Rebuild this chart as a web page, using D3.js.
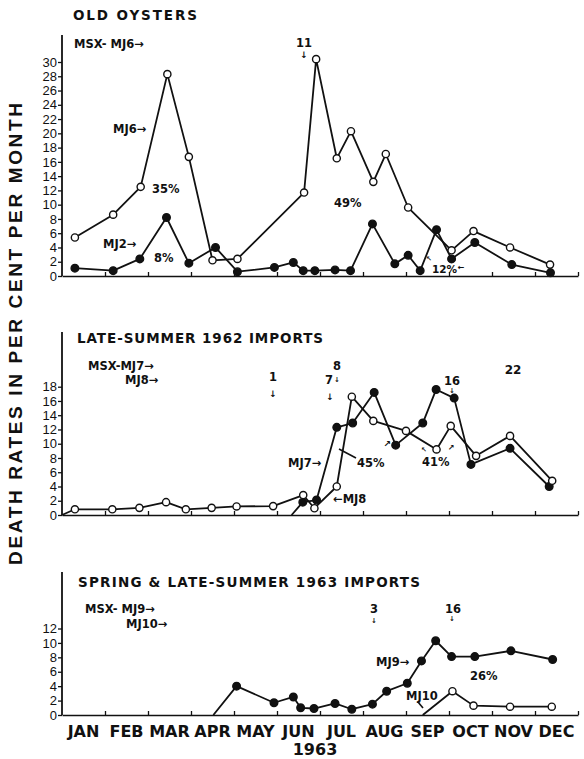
<!DOCTYPE html>
<html lang="en">
<head>
<meta charset="utf-8">
<title>Death rates in per cent per month, 1963</title>
<script src="https://d3js.org/d3.v7.min.js"></script>
<style type="text/css">
  body { margin: 0; background: #fff; }
  text { font-family: "Liberation Sans", Arial, sans-serif; fill: #111; }
  .lbl { font-family: "DejaVu Sans", "Liberation Sans", sans-serif; font-weight: bold; }
</style>
</head>
<body>
<script type="text/javascript">
// month labels and tick values
var months = ["JAN", "FEB", "MAR", "APR", "MAY", "JUN", "JUL", "AUG", "SEP", "OCT", "NOV", "DEC"];
var oldTicks = [0, 2, 4, 6, 8, 10, 12, 14, 16, 18, 20, 22, 24, 26, 28, 30];
var lateTicks = [0, 2, 4, 6, 8, 10, 12, 14, 16, 18];
var springTicks = [0, 2, 4, 6, 8, 10, 12];

// [month position (0 = 1 Jan, 12 = 31 Dec), death rate %]
var oldMJ6 = [[0.30, 5.4], [1.19, 8.6], [1.83, 12.5], [2.45, 28.3], [2.95, 16.7], [3.50, 2.2],
  [4.08, 2.4], [5.63, 11.7], [5.91, 30.4], [6.39, 16.5], [6.72, 20.3], [7.24, 13.2],
  [7.53, 17.1], [8.05, 9.6], [9.06, 3.6], [9.57, 6.3], [10.42, 4.0], [11.35, 1.6]];
var oldMJ2 = [[0.30, 1.1], [1.19, 0.75], [1.81, 2.4], [2.43, 8.2], [2.95, 1.8], [3.57, 4.0],
  [4.08, 0.6], [4.94, 1.2], [5.38, 1.9], [5.61, 0.75], [5.88, 0.75], [6.35, 0.85],
  [6.71, 0.75], [7.22, 7.3], [7.74, 1.7], [8.05, 2.9], [8.33, 0.75], [8.71, 6.5],
  [9.06, 2.4], [9.60, 4.7], [10.46, 1.6], [11.36, 0.45]];

var lateMJ8 = [[0.30, 0.8], [1.17, 0.8], [1.80, 1.0], [2.42, 1.8], [2.88, 0.8], [3.48, 1.0],
  [4.06, 1.2], [4.91, 1.25], [5.61, 2.8], [5.87, 0.95], [6.39, 4.0], [6.74, 16.6],
  [7.24, 13.2], [8.00, 11.8], [8.71, 9.2], [9.04, 12.5], [9.63, 8.3], [10.42, 11.1], [11.40, 4.8]];
var lateMJ7 = [[5.60, 1.8], [5.92, 2.1], [6.39, 12.3], [6.76, 12.9], [7.26, 17.2], [7.76, 9.8],
  [8.39, 12.9], [8.70, 17.6], [9.12, 16.4], [9.51, 7.1], [10.42, 9.35], [11.33, 4.0]];

var springMJ9 = [[4.06, 4.0], [4.93, 1.7], [5.38, 2.5], [5.55, 1.0], [5.86, 0.9], [6.35, 1.6],
  [6.74, 0.8], [7.22, 1.5], [7.55, 3.3], [8.03, 4.4], [8.36, 7.5], [8.69, 10.3],
  [9.06, 8.1], [9.60, 8.1], [10.44, 8.9], [11.41, 7.7]];
var springMJ10 = [[9.08, 3.3], [9.57, 1.3], [10.42, 1.15], [11.39, 1.15]];

var W = 584, H = 759;

var svg = d3.select("body").append("svg")
  .attr("width", W)
  .attr("height", H);

var x = d3.scaleLinear().domain([0, 12]).range([62, 578]);

var panels = [
  { title: "OLD OYSTERS", titleX: 73, titleY: 20, titleLen: 124,
    axisTop: 35, y: d3.scaleLinear().domain([0, 30]).range([276, 62]), ticks: oldTicks,
    series: [
      { pts: oldMJ2, start: null, open: false },
      { pts: oldMJ6, start: null, open: true }
    ],
    notes: [
      { t: "MSX- MJ6\u2192", x: 74, y: 48 },
      { t: "11", x: 304, y: 47, a: "middle" },
      { t: "\u2193", x: 304, y: 58, s: 9, a: "middle" },
      { t: "MJ6\u2192", x: 113, y: 133 },
      { t: "35%", x: 152, y: 193 },
      { t: "MJ2\u2192", x: 103, y: 248 },
      { t: "8%", x: 154, y: 262 },
      { t: "49%", x: 334, y: 207 },
      { t: "\u2196", x: 429, y: 261, s: 7, a: "middle" },
      { t: "12%", x: 432, y: 273, s: 10.5 },
      { t: "\u2190", x: 461, y: 270, s: 8, a: "middle" }
    ]
  },
  { title: "LATE-SUMMER 1962 IMPORTS", titleX: 77, titleY: 343, titleLen: 246,
    axisTop: 332, y: d3.scaleLinear().domain([0, 18]).range([515, 386.7]), ticks: lateTicks,
    series: [
      { pts: lateMJ7, start: [5.34, 0], open: false },
      { pts: lateMJ8, start: [0, 0], open: true }
    ],
    notes: [
      { t: "MSX-MJ7\u2192", x: 88, y: 370 },
      { t: "MJ8\u2192", x: 125, y: 384 },
      { t: "1", x: 273, y: 381, a: "middle" },
      { t: "\u2193", x: 273, y: 397, s: 9, a: "middle" },
      { t: "8", x: 337, y: 370, a: "middle" },
      { t: "7", x: 329, y: 384, a: "middle" },
      { t: "\u2193", x: 337, y: 382, s: 7, a: "middle" },
      { t: "\u2193", x: 330, y: 400, s: 9, a: "middle" },
      { t: "16", x: 452, y: 385, a: "middle" },
      { t: "\u2193", x: 452, y: 393, s: 7, a: "middle" },
      { t: "22", x: 513, y: 374, s: 12, a: "middle" },
      { t: "MJ7\u2192", x: 288, y: 467 },
      { t: "45%", x: 357, y: 467 },
      { t: "\u2197", x: 387, y: 447, s: 9, a: "middle" },
      { t: "41%", x: 422, y: 466 },
      { t: "\u2196", x: 424, y: 452, s: 7, a: "middle" },
      { t: "\u2197", x: 451, y: 450, s: 8, a: "middle" },
      { t: "\u2190MJ8", x: 333, y: 503 }
    ],
    pointers: [[[339, 449], [356, 458]]]
  },
  { title: "SPRING & LATE-SUMMER 1963 IMPORTS", titleX: 78, titleY: 587, titleLen: 342,
    axisTop: 572, y: d3.scaleLinear().domain([0, 12]).range([715, 628.5]), ticks: springTicks,
    series: [
      { pts: springMJ9, start: [3.52, 0], open: false },
      { pts: springMJ10, start: [8.39, 0], open: true }
    ],
    notes: [
      { t: "MSX- MJ9\u2192", x: 85, y: 613 },
      { t: "MJ10\u2192", x: 126, y: 628 },
      { t: "3", x: 374, y: 613, a: "middle" },
      { t: "\u2193", x: 374, y: 623, s: 7, a: "middle" },
      { t: "16", x: 453, y: 613, a: "middle" },
      { t: "\u2193", x: 452, y: 621, s: 7, a: "middle" },
      { t: "MJ9\u2192", x: 376, y: 666 },
      { t: "26%", x: 470, y: 680 },
      { t: "MJ10", x: 406, y: 700 }
    ],
    pointers: [[[418, 702], [423, 708]]]
  }
];

panels.forEach(function(p, i) {
  var g = svg.append("g").attr("class", "panel");
  var y = p.y;

  // title
  g.append("text")
    .attr("class", "lbl")
    .attr("x", p.titleX)
    .attr("y", p.titleY)
    .attr("font-size", 13.5)
    .attr("textLength", p.titleLen)
    .attr("lengthAdjust", "spacing")
    .text(p.title);

  // y axis
  var yAxis = g.append("g")
    .attr("transform", "translate(" + x(0) + ",0)")
    .call(d3.axisLeft(y).tickValues(p.ticks).tickSize(4).tickPadding(1).tickSizeOuter(0));
  yAxis.select(".domain").remove();
  yAxis.selectAll(".tick line").attr("stroke", "#111").attr("stroke-width", 1.3);
  yAxis.selectAll(".tick text")
    .attr("font-size", 13)
    .attr("fill", "#111")
    .style("font-family", "'Liberation Sans', Arial, sans-serif");
  g.append("line")
    .attr("x1", x(0)).attr("x2", x(0))
    .attr("y1", p.axisTop).attr("y2", y(0))
    .attr("stroke", "#111").attr("stroke-width", 1.8);

  // x axis, ticks at month boundaries pointing up
  var xAxis = g.append("g")
    .attr("transform", "translate(0," + y(0) + ")")
    .call(d3.axisBottom(x).tickValues(d3.range(1, 13)).tickSize(-4).tickSizeOuter(0).tickFormat(""));
  xAxis.select(".domain").attr("stroke", "#111").attr("stroke-width", 1.6);
  xAxis.selectAll(".tick line").attr("stroke", "#111").attr("stroke-width", 1.3);

  // series lines, then markers on top
  p.series.forEach(function(s) {
    var pts = s.start ? [s.start].concat(s.pts) : s.pts;
    g.append("path")
      .datum(pts)
      .attr("d", d3.line()
        .x(function(d) { return x(d[0]); })
        .y(function(d) { return y(d[1]); }))
      .attr("fill", "none")
      .attr("stroke", "#111")
      .attr("stroke-width", 1.8)
      .attr("stroke-linejoin", "round");
  });
  p.series.forEach(function(s) {
    g.selectAll(null)
      .data(s.pts)
      .enter()
      .append("circle")
      .attr("cx", function(d) { return x(d[0]); })
      .attr("cy", function(d) { return y(d[1]); })
      .attr("r", s.open ? 3.6 : 3.8)
      .attr("fill", s.open ? "#fff" : "#111")
      .attr("stroke", "#111")
      .attr("stroke-width", 1.4);
  });

  // annotations
  g.selectAll(null)
    .data(p.notes)
    .enter()
    .append("text")
    .attr("class", "lbl")
    .attr("x", function(d) { return d.x; })
    .attr("y", function(d) { return d.y; })
    .attr("font-size", function(d) { return d.s || 11.5; })
    .attr("text-anchor", function(d) { return d.a || "start"; })
    .text(function(d) { return d.t; });

  (p.pointers || []).forEach(function(pt) {
    g.append("path")
      .attr("d", d3.line()(pt))
      .attr("stroke", "#111")
      .attr("stroke-width", 1.6)
      .attr("fill", "none");
  });
});

// month labels under the bottom panel
svg.append("g")
  .selectAll("text")
  .data(months)
  .enter()
  .append("text")
  .attr("class", "lbl")
  .attr("x", function(d, i) { return x(i + 0.5); })
  .attr("y", 737)
  .attr("text-anchor", "middle")
  .attr("font-size", 16)
  .text(function(d) { return d; });

svg.append("text")
  .attr("class", "lbl")
  .attr("x", 315)
  .attr("y", 755)
  .attr("text-anchor", "middle")
  .attr("font-size", 16)
  .text("1963");

// y axis title
svg.append("text")
  .attr("transform", "translate(22,334) rotate(-90)")
  .attr("text-anchor", "middle")
  .attr("font-size", 19)
  .attr("font-weight", "bold")
  .attr("textLength", 462)
  .attr("lengthAdjust", "spacing")
  .text("DEATH RATES IN PER CENT PER MONTH");
</script>
</body>
</html>
